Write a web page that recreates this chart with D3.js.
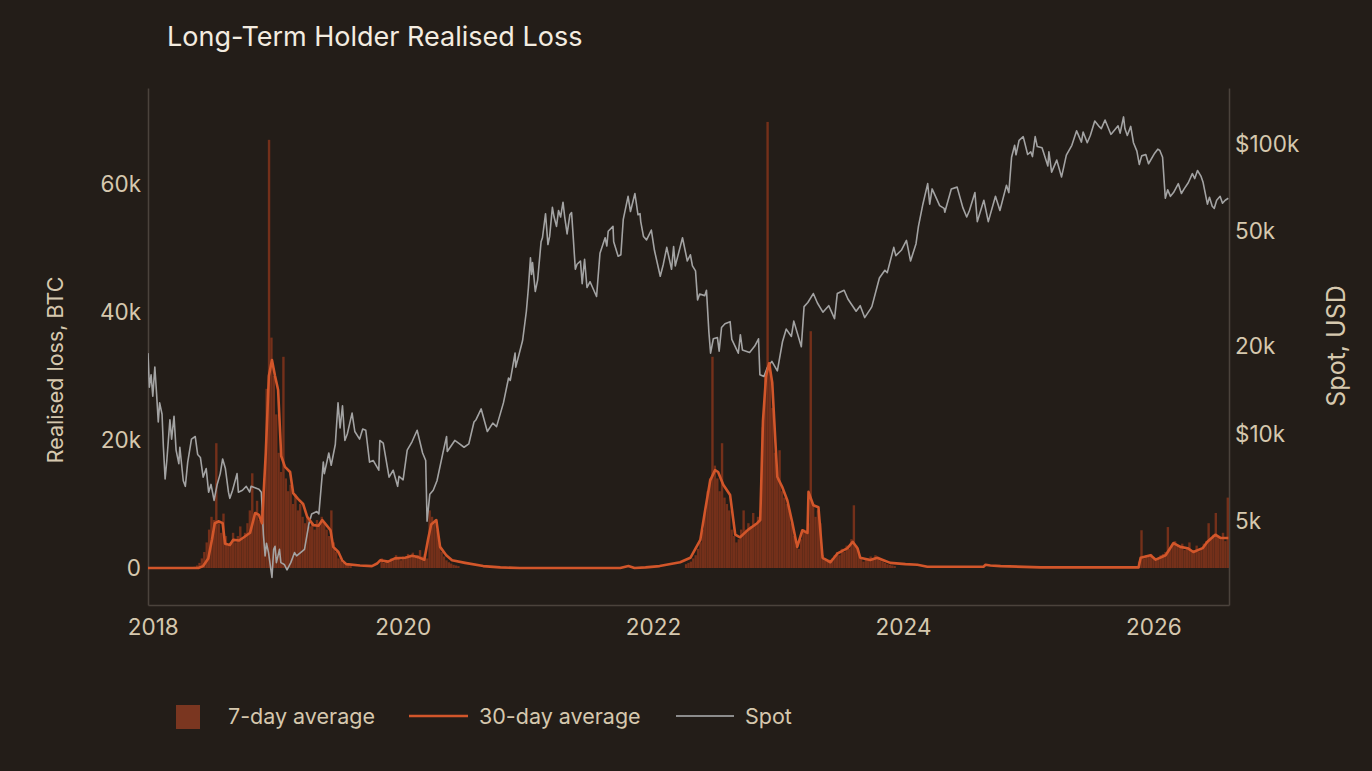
<!DOCTYPE html>
<html>
<head>
<meta charset="utf-8">
<script src="https://cdn.jsdelivr.net/npm/d3@7"></script>
<style>
  html, body { margin: 0; padding: 0; background: #231d18; }
  svg { display: block; }
  text { font-family: Inter, "Noto Sans", sans-serif; }
</style>
</head>
<body>
<svg id="chart" width="1372" height="771"></svg>
<script>
// ---------------- DATA ----------------
const title = "Long-Term Holder Realised Loss";
const xTickYears = [2018, 2020, 2022, 2024, 2026];
const leftTicks = [0, 20000, 40000, 60000];
const leftTickLabels = ["0", "20k", "40k", "60k"];
const rightTicks = [5000, 10000, 20000, 50000, 100000];
const rightTickLabels = ["5k", "$10k", "20k", "50k", "$100k"];
const legendLabels = ["7-day average", "30-day average", "Spot"];

// 7-day average (BTC, thousands), weekly bars, in active segments
const seg2018Start = "2018-04-30";
const seg2018 = [0.2,0.4,0.8,1.5,2.5,4.0,6.0,8.0,7.5,19.5,7.0,5.5,8.5,5.0,3.5,4.0,5.5,4.0,5.0,6.5,
  4.5,5.5,7.0,9.0,14.8,8.5,10.5,7.5,9.0,14.0,28.0,66.9,36.0,30.0,24.0,18.0,15.0,33.0,14.0,12.0,
  13.0,10.0,11.5,9.0,10.0,8.0,7.0,8.0,6.5,7.0,6.0,7.5,6.5,8.0,7.0,6.0,5.0,9.0,4.0,2.5,
  1.5,1.2,0.8,0.6,0.5,0.3];
const seg2020Start = "2019-10-28";
const seg2020 = [1.5,0.8,1.2,0.9,1.5,1.3,2.0,1.6,1.2,1.8,1.5,2.2,1.8,2.4,1.6,2.0,2.8,1.8,2.2,1.5,
  9.0,8.0,7.0,6.0,4.0,2.5,1.8,1.2,0.9,0.7,0.5,0.4,0.3];
const seg2022Start = "2022-04-04";
const seg2022 = [0.6,0.8,1.0,1.5,2.0,3.0,4.0,6.0,9.0,12.0,14.0,33.0,16.0,14.0,12.0,19.5,11.0,10.0,9.0,6.0,
  5.0,4.0,4.5,6.0,9.0,6.0,7.0,6.5,8.6,7.0,8.0,9.0,22.0,30.0,69.7,32.0,25.0,18.0,14.0,18.4,
  12.0,11.0,10.0,9.0,7.0,5.0,3.5,3.0,4.5,6.0,5.5,7.0,37.0,10.0,8.0,9.0,7.0,2.0,1.2,1.0,
  1.3,1.5,2.0,2.5,2.0,3.0,2.5,3.5,3.0,4.5,9.8,3.5,2.5,1.5,1.0,1.3,1.5,1.8,1.5,2.0,
  1.5,1.2,1.0,0.8,0.6,0.5,0.4,0.3];
const seg2026Start = "2025-11-17";
const seg2026 = [1.0,5.9,1.5,2.0,1.8,2.2,1.6,1.2,1.5,2.0,2.2,2.5,6.4,3.0,3.8,4.2,3.5,3.2,3.8,2.8,
  3.2,4.0,2.6,2.8,3.5,2.6,3.0,3.8,4.2,7.0,4.5,5.2,8.6,5.0,4.5,5.5,4.2,11.0];

// 30-day average (BTC, thousands)
const avg30Dates = ["2017-12-18","2018-05-14","2018-05-28","2018-06-12","2018-06-23","2018-07-01","2018-07-13","2018-07-24","2018-07-31","2018-08-14",
  "2018-08-24","2018-09-10","2018-09-24","2018-10-12","2018-10-27","2018-11-07","2018-11-16","2018-11-27","2018-12-06","2018-12-15",
  "2018-12-24","2019-01-02","2019-01-11","2019-01-22","2019-02-06","2019-02-15","2019-03-01","2019-03-16","2019-03-28","2019-04-15",
  "2019-04-30","2019-05-11","2019-05-26","2019-06-04","2019-06-12","2019-06-27","2019-07-08","2019-07-20","2019-08-29","2019-10-03",
  "2019-10-18","2019-10-27","2019-11-19","2019-12-09","2020-01-08","2020-01-28","2020-02-15","2020-03-04","2020-03-15","2020-03-24",
  "2020-04-08","2020-04-19","2020-05-07","2020-05-24","2020-07-01","2020-08-23","2020-10-12","2020-12-08","2021-09-27","2021-10-21",
  "2021-11-08","2021-12-10","2022-01-20","2022-03-21","2022-04-20","2022-05-19","2022-06-02","2022-06-17","2022-07-01","2022-07-10",
  "2022-07-25","2022-08-14","2022-08-29","2022-09-12","2022-10-06","2022-11-01","2022-11-10","2022-11-18","2022-11-27","2022-12-06",
  "2022-12-15","2022-12-24","2022-12-30","2023-01-13","2023-01-28","2023-02-12","2023-02-26","2023-03-13","2023-03-28","2023-03-31",
  "2023-04-14","2023-04-29","2023-05-11","2023-06-03","2023-06-24","2023-07-23","2023-08-07","2023-08-21","2023-08-29","2023-09-27",
  "2023-10-18","2023-11-01","2023-11-25","2024-01-08","2024-02-12","2024-03-12","2024-08-23","2024-08-29","2024-09-12","2024-10-12",
  "2025-02-06","2025-11-19","2025-11-25","2025-12-24","2026-01-08","2026-02-06","2026-03-01","2026-03-21","2026-04-11","2026-04-28",
  "2026-05-25","2026-06-08","2026-07-01","2026-07-16","2026-08-08"];
const avg30Values = [0,0,0.3,1.5,4.5,7.0,7.3,7.0,3.8,3.6,
  4.4,4.3,4.8,5.5,8.6,8.3,7.0,18,30,32.5,
  30,27.8,17.5,15.8,15.0,11.7,10.8,10.0,8.0,6.7,
  6.6,7.5,6.5,5.9,3.3,2.5,1.2,0.6,0.4,0.3,
  0.7,1.2,1.0,1.5,1.6,1.9,1.7,1.3,4.5,6.8,
  7.5,3.3,2.0,1.2,0.8,0.3,0.1,0,0,0.3,
  0,0.1,0.3,0.9,1.6,4.4,9.0,13.7,15.3,15.0,
  13.0,11.4,5.2,4.8,6.0,7.0,7.5,23,30,32,
  29,20,14.2,12.7,10.6,7.0,3.3,5.9,5.5,11.9,
  9.8,9.5,1.6,0.9,2.3,3.1,4.1,3.1,1.6,1.25,
  1.6,1.3,0.8,0.6,0.5,0.2,0.2,0.5,0.4,0.3,
  0.1,0.1,1.6,2.0,1.3,2.0,3.9,3.3,3.1,2.5,
  3.1,4.1,5.2,4.7,4.7];

// Spot price (USD)
const spotDates = [
  "2017-12-18","2017-12-22","2017-12-27","2018-01-01","2018-01-07","2018-01-12","2018-01-17","2018-01-21","2018-01-28","2018-02-01",
  "2018-02-06","2018-02-11","2018-02-20","2018-02-25","2018-03-04","2018-03-10","2018-03-18","2018-03-21","2018-03-31","2018-04-06",
  "2018-04-13","2018-04-24","2018-05-05","2018-05-12","2018-05-20","2018-05-28","2018-06-06","2018-06-13","2018-06-20","2018-06-29",
  "2018-07-08","2018-07-17","2018-07-24","2018-08-01","2018-08-10","2018-08-14","2018-08-22","2018-09-04","2018-09-08","2018-09-20",
  "2018-10-01","2018-10-11","2018-10-15","2018-11-07","2018-11-14","2018-11-20","2018-11-25","2018-11-29","2018-12-05","2018-12-15",
  "2018-12-20","2018-12-24","2018-12-28","2019-01-06","2019-01-10","2019-01-20","2019-01-28","2019-02-08","2019-02-19","2019-02-25",
  "2019-03-20","2019-04-02","2019-04-10","2019-04-25","2019-05-01","2019-05-14","2019-05-17","2019-05-30","2019-06-06","2019-06-18",
  "2019-06-26","2019-07-02","2019-07-09","2019-07-16","2019-07-23","2019-08-06","2019-08-14","2019-08-28","2019-09-06","2019-09-15",
  "2019-09-26","2019-10-07","2019-10-23","2019-10-26","2019-11-05","2019-11-22","2019-12-04","2019-12-17","2019-12-21","2020-01-02",
  "2020-01-14","2020-01-28","2020-02-12","2020-02-28","2020-03-08","2020-03-12","2020-03-20","2020-03-30","2020-04-10","2020-04-29",
  "2020-05-08","2020-05-10","2020-06-01","2020-06-12","2020-06-28","2020-07-12","2020-07-27","2020-08-02","2020-08-17","2020-09-04",
  "2020-09-20","2020-10-01","2020-10-21","2020-11-05","2020-11-10","2020-11-24","2020-11-26","2020-12-16","2020-12-27","2021-01-02",
  "2021-01-08","2021-01-11","2021-01-14","2021-01-22","2021-01-29","2021-02-08","2021-02-12","2021-02-21","2021-02-28","2021-03-05",
  "2021-03-13","2021-03-18","2021-03-25","2021-03-31","2021-04-06","2021-04-13","2021-04-18","2021-04-25","2021-05-03","2021-05-08",
  "2021-05-12","2021-05-19","2021-05-24","2021-06-03","2021-06-08","2021-06-15","2021-06-22","2021-07-01","2021-07-20","2021-07-30",
  "2021-08-14","2021-08-19","2021-08-23","2021-09-06","2021-09-08","2021-09-21","2021-09-29","2021-10-06","2021-10-20","2021-10-27",
  "2021-11-09","2021-11-18","2021-11-24","2021-11-26","2021-12-04","2021-12-13","2021-12-27","2022-01-05","2022-01-22","2022-01-31",
  "2022-02-10","2022-02-24","2022-03-02","2022-03-07","2022-03-28","2022-04-11","2022-04-20","2022-04-26","2022-05-05","2022-05-11",
  "2022-05-17","2022-06-01","2022-06-06","2022-06-13","2022-06-18","2022-06-26","2022-07-08","2022-07-13","2022-07-20","2022-07-30",
  "2022-08-14","2022-08-19","2022-09-07","2022-09-13","2022-09-19","2022-10-10","2022-10-25","2022-11-05","2022-11-09","2022-11-21",
  "2022-12-01","2022-12-14","2022-12-30","2023-01-14","2023-01-25","2023-02-09","2023-02-16","2023-03-10","2023-03-18","2023-03-29",
  "2023-04-14","2023-04-26","2023-05-12","2023-05-29","2023-06-15","2023-06-23","2023-07-13","2023-07-24","2023-08-17","2023-08-29",
  "2023-09-11","2023-09-28","2023-10-02","2023-10-24","2023-11-09","2023-11-16","2023-12-05","2023-12-11","2023-12-27","2024-01-11",
  "2024-01-23","2024-02-08","2024-02-15","2024-02-28","2024-03-13","2024-03-19","2024-03-26","2024-04-17","2024-04-30","2024-05-02",
  "2024-05-21","2024-06-07","2024-06-24","2024-07-05","2024-07-13","2024-07-29","2024-08-05","2024-08-24","2024-09-06","2024-09-27",
  "2024-10-10","2024-10-29","2024-11-05","2024-11-13","2024-11-22","2024-11-26","2024-12-05","2024-12-17","2024-12-30","2025-01-08",
  "2025-01-13","2025-01-21","2025-01-27","2025-02-10","2025-02-27","2025-03-02","2025-03-10","2025-03-25","2025-04-08","2025-04-22",
  "2025-05-08","2025-05-22","2025-06-05","2025-06-10","2025-06-22","2025-07-01","2025-07-14","2025-07-25","2025-08-02","2025-08-13",
  "2025-08-30","2025-09-01","2025-09-20","2025-09-26","2025-10-06","2025-10-10","2025-10-17","2025-10-27","2025-11-04","2025-11-14",
  "2025-11-21","2025-11-28","2025-12-10","2025-12-18","2026-01-05","2026-01-14","2026-01-20","2026-01-28","2026-02-05","2026-02-12",
  "2026-02-20","2026-03-01","2026-03-08","2026-03-15","2026-03-24","2026-04-01","2026-04-13","2026-04-25","2026-05-02","2026-05-10",
  "2026-05-20","2026-05-26","2026-06-08","2026-06-14","2026-06-22","2026-06-28","2026-07-05","2026-07-15","2026-07-22","2026-07-30",
  "2026-08-08"];
const spotValues = [
  19000,14500,16000,13500,17000,13800,11000,12800,11700,9000,
  7000,8100,11200,9600,11500,8800,7900,9000,6900,6600,
  8000,9600,9800,8500,8300,7100,7600,6300,6700,5900,
  6700,7300,8200,7600,6300,6000,6400,7300,6300,6400,
  6600,6300,6600,6450,6300,4500,3800,4200,3900,3200,
  4000,4100,3600,4000,3600,3550,3400,3600,3900,3800,
  4000,4900,5300,5400,5300,8000,7300,8600,7800,9200,
  12800,10500,12500,9500,10000,11800,10200,9600,10400,10300,
  8000,8100,7500,9500,9300,7100,7500,6600,7150,6950,
  8800,9400,10300,8600,8100,5000,6200,6400,6900,8800,
  9800,8700,9500,9300,9000,9250,11000,11200,12200,10200,
  10900,10600,12800,15600,15300,19000,17000,21000,26500,32000,
  40500,35500,39000,31000,34000,46000,47500,57500,45000,48000,
  60500,56000,52000,59000,56000,63000,56000,49000,57000,58000,
  49500,37000,38500,39500,33000,40000,32000,33500,29800,42000,
  47500,44500,50000,52000,46000,41000,41500,55000,66000,58500,
  67500,57000,57500,54000,48000,46700,50500,43000,35000,38500,
  44000,37000,44300,38000,47500,39500,41500,38000,36500,29000,
  30400,30000,31300,22500,19000,21300,21500,19300,23300,24000,
  24400,21200,19000,22000,19500,19100,20100,21300,16000,15800,
  17000,17800,16500,20800,23000,21700,24500,20000,27500,28400,
  30500,28300,26300,27700,25000,30500,31300,29200,26500,27700,
  25200,27000,27500,34500,36700,36000,44000,41200,43000,46500,
  39500,45300,52000,62000,73000,62000,70000,61300,60000,58200,
  70000,71000,60200,56000,59000,68000,54000,64000,54000,66000,
  59000,72000,68000,90000,99000,91800,103000,106000,92000,94000,
  90500,106000,98000,97000,84000,94000,80000,88000,77000,91500,
  99000,111000,101500,110000,101000,107000,120000,115500,113000,121000,
  108000,108500,115500,109000,124000,113000,107000,115000,101000,94500,
  85000,91000,92000,85500,93000,96000,95000,90000,65000,69500,
  66000,68000,70500,73000,67500,70000,73500,79000,76000,81000,
  77500,74000,62000,65500,61000,60000,64000,66000,62500,64000,
  65000];

// ---------------- CHART ----------------
const parse = d3.utcParse("%Y-%m-%d");
const svg = d3.select("#chart");
const W = 1372, H = 771;
const plot = { left: 148, right: 1229, top: 88, bottom: 605 };

const colors = {
  bg: "#231d18", axis: "#4b433c", tick: "#d6c8ae", title: "#f3ece0",
  bar: "#74301a", line30: "#d2562a", spot: "#a3a3a3", spotLegend: "#8c8c8c", swatch: "#7a3620"
};

svg.append("rect").attr("width", W).attr("height", H).attr("fill", colors.bg);

const x = d3.scaleUtc()
  .domain([parse("2017-12-18"), parse("2026-08-10")])
  .range([plot.left, plot.right]);
const yL = d3.scaleLinear().domain([-5780, 75000]).range([plot.bottom, plot.top]);
const yR = d3.scaleLog().domain([2572, 156000]).range([plot.bottom, plot.top]);

// Title
svg.append("text").attr("x", 167).attr("y", 46)
  .attr("font-size", 27).attr("fill", colors.title).text(title);

// Axes
const axisG = svg.append("g");
const tickFont = 22.5;
const xAxis = d3.axisBottom(x)
  .tickValues(xTickYears.map(yr => new Date(Date.UTC(yr, 0, 1))))
  .tickFormat(d3.utcFormat("%Y")).tickSize(0).tickPadding(14);
const gx = axisG.append("g").attr("transform", `translate(0,${plot.bottom})`).call(xAxis);
gx.select(".domain").attr("stroke", colors.axis).attr("stroke-width", 1.5);
gx.selectAll("text").attr("font-size", tickFont).attr("fill", colors.tick).attr("font-family", "Inter");

const yAxisL = d3.axisLeft(yL).tickValues(leftTicks)
  .tickFormat((d, i) => leftTickLabels[i]).tickSize(0).tickPadding(7);
const gl = axisG.append("g").attr("transform", `translate(${plot.left},0)`).call(yAxisL);
gl.select(".domain").attr("stroke", colors.axis).attr("stroke-width", 1.5);
gl.selectAll("text").attr("font-size", tickFont).attr("fill", colors.tick).attr("font-family", "Inter");

const yAxisR = d3.axisRight(yR).tickValues(rightTicks)
  .tickFormat((d, i) => rightTickLabels[i]).tickSize(0).tickPadding(6);
const gr = axisG.append("g").attr("transform", `translate(${plot.right},0)`).call(yAxisR);
gr.select(".domain").attr("stroke", colors.axis).attr("stroke-width", 1.5);
gr.selectAll("text").attr("font-size", tickFont).attr("fill", colors.tick).attr("font-family", "Inter");

// Axis titles
svg.append("text").attr("transform", `translate(63,370) rotate(-90)`)
  .attr("text-anchor", "middle").attr("font-size", 21.5).attr("fill", colors.tick)
  .text("Realised loss, BTC");
svg.append("text").attr("transform", `translate(1345,346) rotate(-90)`)
  .attr("text-anchor", "middle").attr("font-size", 25).attr("fill", colors.tick)
  .text("Spot, USD");

// Clip
svg.append("clipPath").attr("id", "clip").append("rect")
  .attr("x", plot.left).attr("y", plot.top)
  .attr("width", plot.right - plot.left).attr("height", plot.bottom - plot.top);
const g = svg.append("g").attr("clip-path", "url(#clip)");

// 7-day bars
const DAY = 86400000;
const segments = [[seg2018Start, seg2018], [seg2020Start, seg2020], [seg2022Start, seg2022], [seg2026Start, seg2026]];
const bars = [];
segments.forEach(([start, vals]) => {
  const s = parse(start);
  vals.forEach((v, i) => bars.push({ d0: new Date(+s + i * 7 * DAY), d1: new Date(+s + (i + 1) * 7 * DAY), v: v * 1000 }));
});
g.append("g").selectAll("rect").data(bars).join("rect")
  .attr("x", d => x(d.d0))
  .attr("width", d => Math.max(0.5, x(d.d1) - x(d.d0)))
  .attr("y", d => yL(d.v))
  .attr("height", d => yL(0) - yL(d.v))
  .attr("fill", colors.bar);

// Spot line
const spot = spotDates.map((d, i) => ({ d: parse(d), v: spotValues[i] }));
g.append("path").datum(spot)
  .attr("fill", "none").attr("stroke", colors.spot).attr("stroke-width", 1.6)
  .attr("stroke-linejoin", "round")
  .attr("d", d3.line().x(d => x(d.d)).y(d => yR(d.v)));

// 30-day line
const avg30 = avg30Dates.map((d, i) => ({ d: parse(d), v: avg30Values[i] * 1000 }));
g.append("path").datum(avg30)
  .attr("fill", "none").attr("stroke", colors.line30).attr("stroke-width", 2.6)
  .attr("stroke-linejoin", "round")
  .attr("d", d3.line().x(d => x(d.d)).y(d => yL(d.v)));

// Legend
const lg = svg.append("g").attr("font-size", 21.5).attr("fill", colors.tick);
lg.append("rect").attr("x", 176).attr("y", 705).attr("width", 24).attr("height", 24).attr("fill", colors.swatch);
lg.append("text").attr("x", 228).attr("y", 724).text(legendLabels[0]).attr("fill", colors.tick);
lg.append("line").attr("x1", 409).attr("x2", 468).attr("y1", 716).attr("y2", 716)
  .attr("stroke", colors.line30).attr("stroke-width", 2.5);
lg.append("text").attr("x", 479).attr("y", 724).text(legendLabels[1]).attr("fill", colors.tick);
lg.append("line").attr("x1", 676).attr("x2", 734).attr("y1", 716).attr("y2", 716)
  .attr("stroke", colors.spotLegend).attr("stroke-width", 2);
lg.append("text").attr("x", 745).attr("y", 724).text(legendLabels[2]).attr("fill", colors.tick);
</script>
</body>
</html>
